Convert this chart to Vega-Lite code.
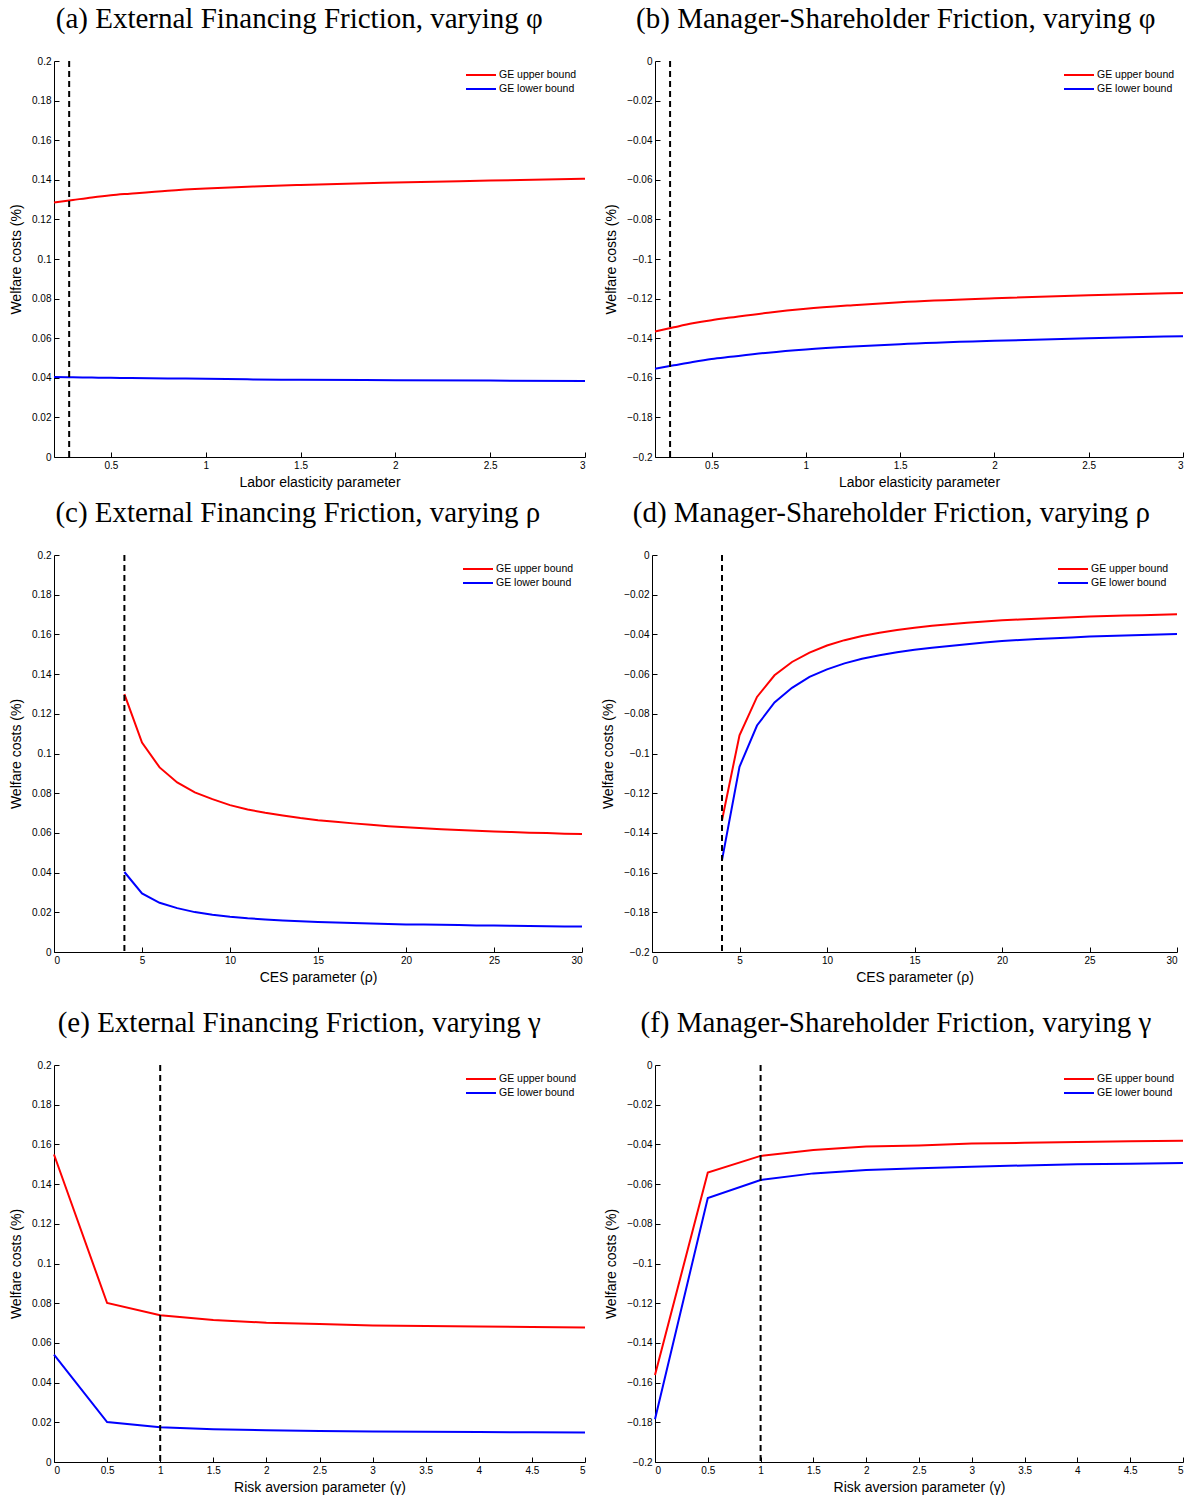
{
  "$schema": "https://vega.github.io/schema/vega-lite/v6.json",
  "background": "white",
  "padding": {"left": 9, "top": 5, "right": 5, "bottom": 5},
  "spacing": 10,
  "config": {
    "view": {"stroke": null},
    "font": "Liberation Sans",
    "axis": {"labelFont": "Liberation Sans", "labelFontSize": 10, "labelColor": "black", "titleFont": "Liberation Sans", "titleFontSize": 14, "titleFontWeight": "normal", "titleColor": "black", "domainColor": "black", "domainWidth": 1, "tickColor": "black", "tickSize": -5, "labelPadding": 8, "grid": false, "format": "~g"},
    "axisX": {"titlePadding": 5},
    "axisY": {"titlePadding": 8},
    "title": {"font": "Liberation Serif", "fontSize": 29, "fontWeight": "normal", "color": "black", "anchor": "middle", "frame": "bounds", "offset": 22},
    "legend": {"orient": "top-right", "offset": 8, "padding": 0, "title": null, "labelFont": "Liberation Sans", "labelFontSize": 10.5, "labelColor": "black", "symbolType": "M-3,0H3", "symbolSize": 100, "symbolStrokeWidth": 2, "labelOffset": 12, "rowPadding": 2},
    "line": {"strokeWidth": 2},
    "concat": {"spacing": 15}
  },
  "datasets": {
    "a": [
      {"x": 0.2, "upper": 0.1285, "lower": 0.0404},
      {"x": 0.3, "upper": 0.1298, "lower": 0.0403},
      {"x": 0.4, "upper": 0.1311, "lower": 0.0401},
      {"x": 0.5, "upper": 0.1322, "lower": 0.0400},
      {"x": 0.6, "upper": 0.1330, "lower": 0.0399},
      {"x": 0.8, "upper": 0.1345, "lower": 0.0397},
      {"x": 1.0, "upper": 0.1356, "lower": 0.0395},
      {"x": 1.25, "upper": 0.1366, "lower": 0.0392},
      {"x": 1.5, "upper": 0.1374, "lower": 0.0390},
      {"x": 2.0, "upper": 0.1386, "lower": 0.0388},
      {"x": 2.5, "upper": 0.1396, "lower": 0.0386},
      {"x": 3.0, "upper": 0.1405, "lower": 0.0384}
    ],
    "b": [
      {"x": 0.2, "upper": -0.1366, "lower": -0.1554},
      {"x": 0.3, "upper": -0.1345, "lower": -0.1537},
      {"x": 0.4, "upper": -0.1325, "lower": -0.1520},
      {"x": 0.5, "upper": -0.1309, "lower": -0.1505},
      {"x": 0.6, "upper": -0.1296, "lower": -0.1494},
      {"x": 0.8, "upper": -0.1271, "lower": -0.1473},
      {"x": 1.0, "upper": -0.1251, "lower": -0.1457},
      {"x": 1.25, "upper": -0.1233, "lower": -0.1442},
      {"x": 1.5, "upper": -0.1218, "lower": -0.1430},
      {"x": 2.0, "upper": -0.1198, "lower": -0.1413},
      {"x": 2.5, "upper": -0.1183, "lower": -0.1400},
      {"x": 3.0, "upper": -0.1172, "lower": -0.1390}
    ],
    "c": [
      {"x": 4, "upper": 0.1299, "lower": 0.0403},
      {"x": 5, "upper": 0.1055, "lower": 0.0295},
      {"x": 6, "upper": 0.0930, "lower": 0.0248},
      {"x": 7, "upper": 0.0854, "lower": 0.0221},
      {"x": 8, "upper": 0.0804, "lower": 0.0201},
      {"x": 9, "upper": 0.0770, "lower": 0.0188},
      {"x": 10, "upper": 0.0740, "lower": 0.0178},
      {"x": 11, "upper": 0.0718, "lower": 0.0170},
      {"x": 12, "upper": 0.0701, "lower": 0.0164},
      {"x": 13, "upper": 0.0688, "lower": 0.0159},
      {"x": 14, "upper": 0.0675, "lower": 0.0155},
      {"x": 15, "upper": 0.0664, "lower": 0.0151},
      {"x": 16, "upper": 0.0656, "lower": 0.0148},
      {"x": 17, "upper": 0.0648, "lower": 0.0146},
      {"x": 18, "upper": 0.0641, "lower": 0.0144},
      {"x": 19, "upper": 0.0634, "lower": 0.0141},
      {"x": 20, "upper": 0.0628, "lower": 0.0139},
      {"x": 21, "upper": 0.0623, "lower": 0.0138},
      {"x": 22, "upper": 0.0619, "lower": 0.0137},
      {"x": 23, "upper": 0.0615, "lower": 0.0136},
      {"x": 24, "upper": 0.0611, "lower": 0.0134},
      {"x": 25, "upper": 0.0607, "lower": 0.0133},
      {"x": 26, "upper": 0.0604, "lower": 0.0132},
      {"x": 27, "upper": 0.0601, "lower": 0.0131},
      {"x": 28, "upper": 0.0599, "lower": 0.0130},
      {"x": 29, "upper": 0.0596, "lower": 0.0129},
      {"x": 30, "upper": 0.0594, "lower": 0.0128}
    ],
    "d": [
      {"x": 4, "upper": -0.1336, "lower": -0.1537},
      {"x": 5, "upper": -0.0908, "lower": -0.1067},
      {"x": 6, "upper": -0.0715, "lower": -0.0859},
      {"x": 7, "upper": -0.0606, "lower": -0.0743},
      {"x": 8, "upper": -0.0539, "lower": -0.0669},
      {"x": 9, "upper": -0.0492, "lower": -0.0614},
      {"x": 10, "upper": -0.0456, "lower": -0.0576},
      {"x": 11, "upper": -0.0429, "lower": -0.0546},
      {"x": 12, "upper": -0.0408, "lower": -0.0523},
      {"x": 13, "upper": -0.0392, "lower": -0.0505},
      {"x": 14, "upper": -0.0378, "lower": -0.0490},
      {"x": 15, "upper": -0.0366, "lower": -0.0477},
      {"x": 16, "upper": -0.0357, "lower": -0.0467},
      {"x": 17, "upper": -0.0349, "lower": -0.0458},
      {"x": 18, "upper": -0.0341, "lower": -0.0450},
      {"x": 19, "upper": -0.0335, "lower": -0.0441},
      {"x": 20, "upper": -0.0329, "lower": -0.0433},
      {"x": 21, "upper": -0.0325, "lower": -0.0428},
      {"x": 22, "upper": -0.0321, "lower": -0.0423},
      {"x": 23, "upper": -0.0317, "lower": -0.0419},
      {"x": 24, "upper": -0.0313, "lower": -0.0415},
      {"x": 25, "upper": -0.0310, "lower": -0.0411},
      {"x": 26, "upper": -0.0307, "lower": -0.0408},
      {"x": 27, "upper": -0.0305, "lower": -0.0405},
      {"x": 28, "upper": -0.0303, "lower": -0.0403},
      {"x": 29, "upper": -0.0301, "lower": -0.0400},
      {"x": 30, "upper": -0.0299, "lower": -0.0398}
    ],
    "e": [
      {"x": 0, "upper": 0.1549, "lower": 0.0541},
      {"x": 0.5, "upper": 0.0801, "lower": 0.0201},
      {"x": 1, "upper": 0.0739, "lower": 0.0175},
      {"x": 1.5, "upper": 0.0715, "lower": 0.0165},
      {"x": 2, "upper": 0.0702, "lower": 0.0160},
      {"x": 2.5, "upper": 0.0695, "lower": 0.0156},
      {"x": 3, "upper": 0.0688, "lower": 0.0154},
      {"x": 3.5, "upper": 0.0685, "lower": 0.0153},
      {"x": 4, "upper": 0.0682, "lower": 0.0151},
      {"x": 4.5, "upper": 0.0680, "lower": 0.0150},
      {"x": 5, "upper": 0.0677, "lower": 0.0148}
    ],
    "f": [
      {"x": 0, "upper": -0.1562, "lower": -0.1785},
      {"x": 0.5, "upper": -0.0542, "lower": -0.0670},
      {"x": 1, "upper": -0.0458, "lower": -0.0579},
      {"x": 1.5, "upper": -0.0428, "lower": -0.0546},
      {"x": 2, "upper": -0.0411, "lower": -0.0529},
      {"x": 2.5, "upper": -0.0405, "lower": -0.0520},
      {"x": 3, "upper": -0.0396, "lower": -0.0512},
      {"x": 3.5, "upper": -0.0392, "lower": -0.0506},
      {"x": 4, "upper": -0.0388, "lower": -0.0500},
      {"x": 4.5, "upper": -0.0384, "lower": -0.0497},
      {"x": 5, "upper": -0.0381, "lower": -0.0494}
    ]
  },
  "vconcat": [
    {
      "spacing": 15,
      "hconcat": [
        {
          "title": "(a) External Financing Friction, varying φ",
          "width": 531, "height": 396,
          "layer": [
            {
              "data": {"name": "a"},
              "transform": [{"fold": ["upper", "lower"], "as": ["series", "value"]}],
              "mark": {"type": "line", "interpolate": "monotone"},
              "encoding": {
                "x": {"field": "x", "type": "quantitative", "scale": {"domain": [0.2, 3], "nice": false, "zero": false}, "axis": {"title": "Labor elasticity parameter", "values": [0.5, 1, 1.5, 2, 2.5, 3]}},
                "y": {"field": "value", "type": "quantitative", "scale": {"domain": [0, 0.2], "nice": false}, "axis": {"title": "Welfare costs (%)", "values": [0, 0.02, 0.04, 0.06, 0.08, 0.1, 0.12, 0.14, 0.16, 0.18, 0.2]}},
                "color": {"field": "series", "type": "nominal", "scale": {"domain": ["upper", "lower"], "range": ["#ff0000", "#0000ff"]}, "legend": {"labelExpr": "datum.label == 'upper' ? 'GE upper bound' : 'GE lower bound'"}}
              }
            },
            {
              "data": {"values": [{"x": 0.28}]},
              "mark": {"type": "rule", "color": "black", "strokeWidth": 2, "strokeDash": [6, 4]},
              "encoding": {"x": {"field": "x", "type": "quantitative"}}
            }
          ]
        },
        {
          "title": "(b) Manager-Shareholder Friction, varying φ",
          "width": 528, "height": 396,
          "layer": [
            {
              "data": {"name": "b"},
              "transform": [{"fold": ["upper", "lower"], "as": ["series", "value"]}],
              "mark": {"type": "line", "interpolate": "monotone"},
              "encoding": {
                "x": {"field": "x", "type": "quantitative", "scale": {"domain": [0.2, 3], "nice": false, "zero": false}, "axis": {"title": "Labor elasticity parameter", "values": [0.5, 1, 1.5, 2, 2.5, 3]}},
                "y": {"field": "value", "type": "quantitative", "scale": {"domain": [-0.2, 0], "nice": false}, "axis": {"title": "Welfare costs (%)", "values": [-0.2, -0.18, -0.16, -0.14, -0.12, -0.1, -0.08, -0.06, -0.04, -0.02, 0]}},
                "color": {"field": "series", "type": "nominal", "scale": {"domain": ["upper", "lower"], "range": ["#ff0000", "#0000ff"]}, "legend": {"labelExpr": "datum.label == 'upper' ? 'GE upper bound' : 'GE lower bound'"}}
              }
            },
            {
              "data": {"values": [{"x": 0.28}]},
              "mark": {"type": "rule", "color": "black", "strokeWidth": 2, "strokeDash": [6, 4]},
              "encoding": {"x": {"field": "x", "type": "quantitative"}}
            }
          ]
        }
      ],
      "resolve": {"scale": {"x": "independent", "y": "independent", "color": "independent"}}
    },
    {
      "spacing": 25,
      "vconcat": [
        {
          "spacing": 15,
          "hconcat": [
            {
              "title": "(c) External Financing Friction, varying ρ",
              "width": 528, "height": 397,
              "layer": [
                {
                  "data": {"name": "c"},
                  "transform": [{"fold": ["upper", "lower"], "as": ["series", "value"]}],
                  "mark": {"type": "line"},
                  "encoding": {
                    "x": {"field": "x", "type": "quantitative", "scale": {"domain": [0, 30], "nice": false}, "axis": {"title": "CES parameter (ρ)", "values": [0, 5, 10, 15, 20, 25, 30]}},
                    "y": {"field": "value", "type": "quantitative", "scale": {"domain": [0, 0.2], "nice": false}, "axis": {"title": "Welfare costs (%)", "values": [0, 0.02, 0.04, 0.06, 0.08, 0.1, 0.12, 0.14, 0.16, 0.18, 0.2]}},
                    "color": {"field": "series", "type": "nominal", "scale": {"domain": ["upper", "lower"], "range": ["#ff0000", "#0000ff"]}, "legend": {"labelExpr": "datum.label == 'upper' ? 'GE upper bound' : 'GE lower bound'"}}
                  }
                },
                {
                  "data": {"values": [{"x": 4}]},
                  "mark": {"type": "rule", "color": "black", "strokeWidth": 2, "strokeDash": [6, 4]},
                  "encoding": {"x": {"field": "x", "type": "quantitative"}}
                }
              ]
            },
            {
              "title": "(d) Manager-Shareholder Friction, varying ρ",
              "width": 525, "height": 397,
              "layer": [
                {
                  "data": {"name": "d"},
                  "transform": [{"fold": ["upper", "lower"], "as": ["series", "value"]}],
                  "mark": {"type": "line"},
                  "encoding": {
                    "x": {"field": "x", "type": "quantitative", "scale": {"domain": [0, 30], "nice": false}, "axis": {"title": "CES parameter (ρ)", "values": [0, 5, 10, 15, 20, 25, 30]}},
                    "y": {"field": "value", "type": "quantitative", "scale": {"domain": [-0.2, 0], "nice": false}, "axis": {"title": "Welfare costs (%)", "values": [-0.2, -0.18, -0.16, -0.14, -0.12, -0.1, -0.08, -0.06, -0.04, -0.02, 0]}},
                    "color": {"field": "series", "type": "nominal", "scale": {"domain": ["upper", "lower"], "range": ["#ff0000", "#0000ff"]}, "legend": {"labelExpr": "datum.label == 'upper' ? 'GE upper bound' : 'GE lower bound'"}}
                  }
                },
                {
                  "data": {"values": [{"x": 4}]},
                  "mark": {"type": "rule", "color": "black", "strokeWidth": 2, "strokeDash": [6, 4]},
                  "encoding": {"x": {"field": "x", "type": "quantitative"}}
                }
              ]
            }
          ],
          "resolve": {"scale": {"x": "independent", "y": "independent", "color": "independent"}}
        },
        {
          "spacing": 15,
          "hconcat": [
            {
              "title": "(e) External Financing Friction, varying γ",
              "width": 531, "height": 397,
              "layer": [
                {
                  "data": {"name": "e"},
                  "transform": [{"fold": ["upper", "lower"], "as": ["series", "value"]}],
                  "mark": {"type": "line"},
                  "encoding": {
                    "x": {"field": "x", "type": "quantitative", "scale": {"domain": [0, 5], "nice": false}, "axis": {"title": "Risk aversion parameter (γ)", "values": [0, 0.5, 1, 1.5, 2, 2.5, 3, 3.5, 4, 4.5, 5]}},
                    "y": {"field": "value", "type": "quantitative", "scale": {"domain": [0, 0.2], "nice": false}, "axis": {"title": "Welfare costs (%)", "values": [0, 0.02, 0.04, 0.06, 0.08, 0.1, 0.12, 0.14, 0.16, 0.18, 0.2]}},
                    "color": {"field": "series", "type": "nominal", "scale": {"domain": ["upper", "lower"], "range": ["#ff0000", "#0000ff"]}, "legend": {"labelExpr": "datum.label == 'upper' ? 'GE upper bound' : 'GE lower bound'"}}
                  }
                },
                {
                  "data": {"values": [{"x": 1}]},
                  "mark": {"type": "rule", "color": "black", "strokeWidth": 2, "strokeDash": [6, 4]},
                  "encoding": {"x": {"field": "x", "type": "quantitative"}}
                }
              ]
            },
            {
              "title": "(f) Manager-Shareholder Friction, varying γ",
              "width": 528, "height": 397,
              "layer": [
                {
                  "data": {"name": "f"},
                  "transform": [{"fold": ["upper", "lower"], "as": ["series", "value"]}],
                  "mark": {"type": "line"},
                  "encoding": {
                    "x": {"field": "x", "type": "quantitative", "scale": {"domain": [0, 5], "nice": false}, "axis": {"title": "Risk aversion parameter (γ)", "values": [0, 0.5, 1, 1.5, 2, 2.5, 3, 3.5, 4, 4.5, 5]}},
                    "y": {"field": "value", "type": "quantitative", "scale": {"domain": [-0.2, 0], "nice": false}, "axis": {"title": "Welfare costs (%)", "values": [-0.2, -0.18, -0.16, -0.14, -0.12, -0.1, -0.08, -0.06, -0.04, -0.02, 0]}},
                    "color": {"field": "series", "type": "nominal", "scale": {"domain": ["upper", "lower"], "range": ["#ff0000", "#0000ff"]}, "legend": {"labelExpr": "datum.label == 'upper' ? 'GE upper bound' : 'GE lower bound'"}}
                  }
                },
                {
                  "data": {"values": [{"x": 1}]},
                  "mark": {"type": "rule", "color": "black", "strokeWidth": 2, "strokeDash": [6, 4]},
                  "encoding": {"x": {"field": "x", "type": "quantitative"}}
                }
              ]
            }
          ],
          "resolve": {"scale": {"x": "independent", "y": "independent", "color": "independent"}}
        }
      ]
    }
  ]
}
